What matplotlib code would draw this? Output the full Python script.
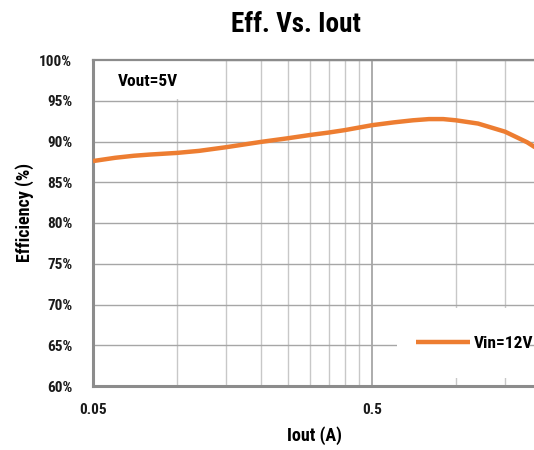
import matplotlib
matplotlib.use("Agg")
import matplotlib.pyplot as plt
from matplotlib.patches import Rectangle
from matplotlib.ticker import FixedLocator, FixedFormatter, NullFormatter

plt.rcParams['font.family'] = ['Roboto Condensed', 'DejaVu Sans']

# data (Vin=12V, Vout=5V)
iout = [0.05, 0.06, 0.07, 0.08, 0.1, 0.12, 0.15, 0.2, 0.25, 0.3, 0.35, 0.4,
        0.5, 0.6, 0.7, 0.8, 0.9, 1.0, 1.2, 1.5, 1.8, 2.0]
eff = [87.6, 88.0, 88.25, 88.4, 88.6, 88.85, 89.3, 89.95, 90.4, 90.8, 91.1, 91.4,
       92.0, 92.35, 92.6, 92.75, 92.75, 92.6, 92.2, 91.2, 89.9, 88.9]

major_x = [0.05, 0.5]
major_x_labels = ["0.05", "0.5"]
minor_x = [0.05 * k for k in range(2, 10)] + [0.5 * k for k in range(2, 10)]
y_ticks = list(range(60, 101, 5))
y_labels = ["%d%%" % v for v in y_ticks]

orange = "#ED7D31"
grid_major = "#a6a6a6"
grid_minor = "#c8c8c8"
spine_col = "#8c8c8c"

fig = plt.figure(figsize=(5.34, 4.5), dpi=100)

# axes runs past the right edge of the picture (x axis to 5 A)
ax = fig.add_axes([93 / 534, 1 - 386 / 450, (651 - 93) / 534, (386 - 60) / 450])
ax.set_xscale("log")
ax.set_xlim(0.05, 5)
ax.set_ylim(60, 100)

ax.xaxis.set_major_locator(FixedLocator(major_x))
ax.xaxis.set_major_formatter(FixedFormatter(major_x_labels))
ax.xaxis.set_minor_locator(FixedLocator(minor_x))
ax.xaxis.set_minor_formatter(NullFormatter())
ax.set_yticks(y_ticks)
ax.set_yticklabels(y_labels)

ax.set_axisbelow(True)
ax.grid(True, which="major", axis="x", color=grid_major, lw=1.3)
ax.grid(True, which="minor", axis="x", color=grid_minor, lw=1.0)
ax.grid(True, which="major", axis="y", color=grid_major, lw=1.0)

ax.tick_params(axis="both", which="both", length=0)
ax.tick_params(axis="y", pad=15, labelsize=11)
ax.tick_params(axis="x", pad=12, labelsize=11)
for lab in ax.get_xticklabels() + ax.get_yticklabels():
    lab.set_fontweight("bold")
    lab.set_color("#1a1a1a")

for s in ["left", "bottom"]:
    ax.spines[s].set_color(spine_col)
    ax.spines[s].set_linewidth(2.2)
ax.spines["top"].set_color(spine_col)
ax.spines["top"].set_linewidth(1.6)
ax.spines["right"].set_visible(False)

ax.plot(iout, eff, color=orange, lw=3.2, zorder=3, label="Vin=12V",
        solid_capstyle="butt")

# white label boxes over the grid
ax.add_patch(Rectangle((93 / 534, 1 - 99 / 450), 107 / 534, 38 / 450,
                       transform=fig.transFigure, facecolor="white",
                       edgecolor="none", zorder=1))
ax.text(118 / 534, 1 - 81 / 450, "Vout=5V", transform=fig.transFigure,
        fontsize=12.5, fontweight="bold", va="center", ha="left", zorder=4)

ax.add_patch(Rectangle((397 / 534, 1 - 378 / 450), 133 / 534, 70 / 450,
                       transform=fig.transFigure, facecolor="white",
                       edgecolor="none", zorder=1))
leg = ax.legend(loc="center left", bbox_to_anchor=(405 / 534, 1 - 343 / 450),
                bbox_transform=fig.transFigure, frameon=False, fontsize=12.5,
                handlelength=3.1, handletextpad=0.2, borderpad=0.15)
for t in leg.get_texts():
    t.set_fontweight("bold")

fig.text(296 / 534, 1 - 25 / 450, "Eff. Vs. Iout", fontsize=19.5,
         fontweight="bold", ha="center", va="center")
fig.text(314 / 534, 1 - 436 / 450, "Iout (A)", fontsize=13,
         fontweight="bold", ha="center", va="center")
fig.text(25 / 534, 1 - 213 / 450, "Efficiency (%)", fontsize=13,
         fontweight="bold", ha="center", va="center", rotation=90)

fig.savefig("out.png", dpi=100)
